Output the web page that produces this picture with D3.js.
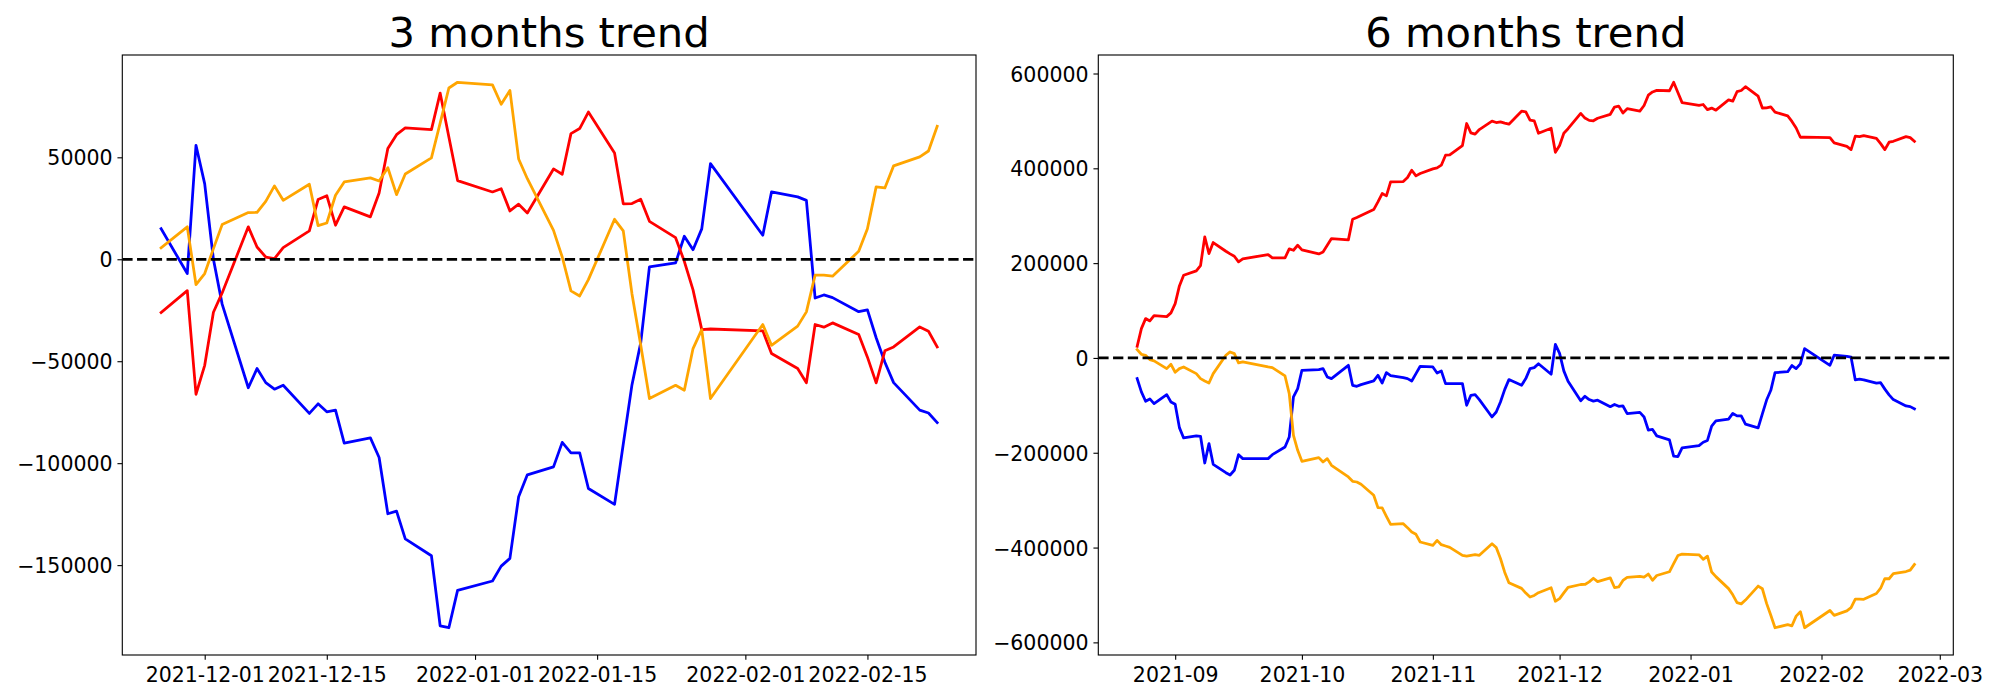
<!DOCTYPE html>
<html><head><meta charset="utf-8">
<script src="https://cdn.jsdelivr.net/npm/d3@7"></script>
<style>
body{margin:0;background:#fff}
svg{display:block}
text{font-family:"DejaVu Sans",sans-serif;fill:#000}
</style>
</head><body>
<svg id="c" width="2000" height="700"></svg>
<script>
// ---------- DATA ----------
const dates3m = ["2021-11-26","2021-11-29","2021-11-30","2021-12-01","2021-12-02","2021-12-03","2021-12-06","2021-12-07","2021-12-08","2021-12-09","2021-12-10","2021-12-13","2021-12-14","2021-12-15","2021-12-16","2021-12-17","2021-12-20","2021-12-21","2021-12-22","2021-12-23","2021-12-24","2021-12-27","2021-12-28","2021-12-29","2021-12-30","2022-01-03","2022-01-04","2022-01-05","2022-01-06","2022-01-07","2022-01-10","2022-01-11","2022-01-12","2022-01-13","2022-01-14","2022-01-17","2022-01-18","2022-01-19","2022-01-20","2022-01-21","2022-01-24","2022-01-25","2022-01-26","2022-01-27","2022-01-28","2022-02-03","2022-02-04","2022-02-07","2022-02-08","2022-02-09","2022-02-10","2022-02-11","2022-02-14","2022-02-15","2022-02-16","2022-02-17","2022-02-18","2022-02-21","2022-02-22","2022-02-23"];
const blue3m = [15000,-7000,55900,37000,0,-22000,-63000,-53600,-60500,-63700,-61800,-75600,-70900,-74800,-74000,-90200,-87600,-97200,-124800,-123500,-137100,-145400,-179800,-180700,-162400,-157800,-150500,-146700,-116500,-105700,-101800,-89800,-94900,-94900,-112400,-120200,-90600,-61500,-41000,-3700,-1800,11300,4700,14900,46900,11800,33000,30600,28900,-19000,-17500,-18800,-25700,-24800,-38500,-50500,-60500,-74000,-75400,-80100];
const red3m = [-26100,-15400,-66200,-52000,-26000,-16500,15900,6000,1100,300,5700,13900,29300,31200,16700,25700,20800,32500,54300,61100,64400,63600,81500,60000,38600,33000,34600,23700,27000,22700,44300,41700,61600,64100,72200,52100,27200,27300,29400,18600,10600,-1000,-15000,-34500,-34200,-35100,-46200,-53600,-60600,-32000,-33300,-31200,-36900,-48000,-60600,-44900,-43000,-33200,-35300,-43000];
const orange3m = [5600,15900,-12400,-7000,5200,17000,22900,23000,28400,36000,28900,36800,16500,17800,31400,37900,39900,38400,44900,31700,41800,49700,66800,84000,86800,85500,76000,82800,49200,39500,14200,1100,-15500,-18000,-10000,19600,13900,-17000,-42000,-68300,-61800,-64200,-43800,-34500,-68300,-32000,-42200,-32800,-25800,-7800,-7800,-8300,3900,15000,35500,35000,45800,50200,53100,65200];

const datesEarly6m = ["2021-08-23","2021-08-24","2021-08-25","2021-08-26","2021-08-27","2021-08-30","2021-08-31","2021-09-01","2021-09-02","2021-09-03","2021-09-06","2021-09-07","2021-09-08","2021-09-09","2021-09-10","2021-09-13","2021-09-14","2021-09-15","2021-09-16","2021-09-17","2021-09-23","2021-09-24","2021-09-27","2021-09-28","2021-09-29","2021-09-30","2021-10-01","2021-10-05","2021-10-06","2021-10-07","2021-10-08","2021-10-12","2021-10-13","2021-10-14","2021-10-15","2021-10-18","2021-10-19","2021-10-20","2021-10-21","2021-10-22","2021-10-25","2021-10-26","2021-10-27","2021-10-28","2021-10-29","2021-11-01","2021-11-02","2021-11-03","2021-11-04","2021-11-05","2021-11-08","2021-11-09","2021-11-10","2021-11-11","2021-11-12","2021-11-15","2021-11-16","2021-11-17","2021-11-18","2021-11-19","2021-11-22","2021-11-23","2021-11-24","2021-11-25"];
const dates6m = datesEarly6m.concat(dates3m);
const red6m = [24600,61900,83000,78100,89300,87200,95000,114700,151900,174400,183600,194800,255300,220200,243400,225100,219500,214500,202600,208900,218100,211000,211000,230000,227200,237700,227900,219500,223700,237700,251800,249000,292600,296100,300300,313000,329200,346800,341900,371400,372100,380500,396000,384100,389000,398800,400900,406600,427700,428400,448100,494500,474800,472000,481800,499400,496600,498000,495200,493100,520500,519100,501500,500100,
473900,484600,433800,448000,474000,483500,515900,506000,501100,500300,505700,513900,529300,531200,516700,525700,520800,532500,554300,561100,564400,563600,581500,560000,538600,533000,534600,523700,527000,522700,544300,541700,561600,564100,572200,552100,527200,527300,529400,518600,510600,499000,485000,465500,465800,464900,453800,446400,439400,468000,466700,468800,463100,452000,439400,455100,457000,466800,464700,457000];
const blue6m = [-43600,-71700,-91400,-86500,-96400,-77400,-92800,-97800,-147000,-168800,-164600,-165300,-221600,-180800,-224400,-242000,-246900,-237000,-204000,-212400,-212400,-204000,-187800,-166700,-82300,-64700,-26000,-24600,-22500,-40100,-43600,-15500,-57700,-59800,-56300,-48500,-36600,-52800,-30900,-37300,-41500,-43600,-48500,-33100,-17600,-19000,-31700,-27400,-54200,-54200,-54200,-99900,-78800,-77400,-87900,-124500,-114000,-92800,-66800,-45700,-57700,-43600,-22500,-20400,
-12300,-34300,28600,9700,-27300,-49300,-90300,-80900,-87800,-91000,-89100,-102900,-98200,-102100,-101300,-117500,-114900,-124500,-152100,-150800,-164400,-172700,-207100,-208000,-189700,-185100,-177800,-174000,-143800,-133000,-129100,-117100,-122200,-122200,-139700,-147500,-117900,-88800,-68300,-31000,-29100,-16000,-22600,-12400,19600,-15500,5700,3300,1600,-46300,-44800,-46100,-53000,-52100,-65800,-77800,-87800,-101300,-102700,-107400];
const orange6m = [17600,7700,5600,-3500,-6300,-22500,-13400,-30200,-22500,-19000,-33100,-43600,-48500,-52800,-33100,5600,12700,9100,-10600,-8400,-19000,-20400,-38000,-75300,-163200,-194800,-218100,-210300,-219500,-212400,-226500,-251100,-260300,-261700,-266600,-289800,-315800,-316500,-334100,-351000,-349600,-358000,-367200,-372100,-388300,-395300,-384800,-393900,-396700,-399500,-416400,-417800,-416400,-415000,-416400,-391800,-400000,-423000,-452000,-474100,-486100,-496000,-504400,-501000,
-495200,-484900,-513200,-507800,-495600,-483800,-477900,-477800,-472400,-464800,-471900,-464000,-484300,-483000,-469400,-462900,-460900,-462400,-455900,-469100,-459000,-451100,-434000,-416800,-414000,-415300,-424800,-418000,-451600,-461300,-486600,-499700,-516300,-518800,-510800,-481200,-486900,-517800,-542800,-569100,-562600,-565000,-544600,-535300,-569100,-532800,-543000,-533600,-526600,-508600,-508600,-509100,-496900,-485800,-465300,-465800,-455000,-450600,-447700,-435600];

const xTicks3m = ["2021-12-01","2021-12-15","2022-01-01","2022-01-15","2022-02-01","2022-02-15"];
const xTickLabels3m = ["2021-12-01","2021-12-15","2022-01-01","2022-01-15","2022-02-01","2022-02-15"];
const yTicks3m = [-150000,-100000,-50000,0,50000];
const xTicks6m = ["2021-09-01","2021-10-01","2021-11-01","2021-12-01","2022-01-01","2022-02-01","2022-03-01"];
const xTickLabels6m = ["2021-09","2021-10","2021-11","2021-12","2022-01","2022-02","2022-03"];
const yTicks6m = [-600000,-400000,-200000,0,200000,400000,600000];
const titles = ["3 months trend","6 months trend"];
const seriesColors = ["#0000ff","#ff0000","#ffa500"];

// ---------- DRAW ----------
const parse = d3.utcParse("%Y-%m-%d");
const svg = d3.select("#c");
svg.append("rect").attr("width",2000).attr("height",700).attr("fill","#fff");

const FS = 20.5, TICK = 4.86, PAD = 4.86, LW = 2.78;

function panel(box, title, dates, series, xt, xtl, yt) {
  const [x0, x1, y0, y1] = box;
  const ds = dates.map(parse);
  const tExt = d3.extent(ds);
  const span = tExt[1] - tExt[0];
  const x = d3.scaleUtc()
    .domain([new Date(+tExt[0] - 0.05*span), new Date(+tExt[1] + 0.05*span)])
    .range([x0, x1]);
  const all = series.flat();
  const vmin = d3.min(all), vmax = d3.max(all), r = vmax - vmin;
  const y = d3.scaleLinear().domain([vmin - 0.05*r, vmax + 0.05*r]).range([y1, y0]);

  const g = svg.append("g");
  const clipId = "clip" + Math.round(x0);
  g.append("clipPath").attr("id", clipId).append("rect")
    .attr("x", x0).attr("y", y0).attr("width", x1 - x0).attr("height", y1 - y0);

  const plot = g.append("g").attr("clip-path", `url(#${clipId})`);
  const line = d3.line().x(d => x(d[0])).y(d => y(d[1]));
  series.forEach((vals, i) => {
    plot.append("path")
      .datum(ds.map((d, j) => [d, vals[j]]))
      .attr("d", line)
      .attr("fill", "none")
      .attr("stroke", seriesColors[i])
      .attr("stroke-width", LW)
      .attr("stroke-linejoin", "round")
      .attr("stroke-linecap", "square");
  });
  plot.append("line")
    .attr("x1", x0).attr("x2", x1).attr("y1", y(0)).attr("y2", y(0))
    .attr("stroke", "#000").attr("stroke-width", LW)
    .attr("stroke-dasharray", "10.3,4.45");

  // axes
  const fmt = v => (v < 0 ? "\u2212" : "") + Math.abs(v);
  const ya = g.append("g").attr("transform", `translate(${x0},0)`)
    .call(d3.axisLeft(y).tickValues(yt).tickFormat(fmt).tickSize(TICK).tickPadding(PAD));
  ya.select(".domain").remove();
  ya.selectAll("line").attr("stroke", "#000").attr("stroke-width", 1.11);
  ya.selectAll("text").attr("font-size", FS).attr("font-family", '"DejaVu Sans", sans-serif')
    .attr("dy", "0.37em").attr("fill", "#000");

  const xtDates = xt.map(parse);
  const xa = g.append("g").attr("transform", `translate(0,${y1})`)
    .call(d3.axisBottom(x).tickValues(xtDates)
      .tickFormat((d, i) => xtl[i]).tickSize(TICK).tickPadding(PAD));
  xa.select(".domain").remove();
  xa.selectAll("line").attr("stroke", "#000").attr("stroke-width", 1.11);
  xa.selectAll("text").attr("font-size", FS).attr("font-family", '"DejaVu Sans", sans-serif')
    .attr("dy", "0.82em").attr("fill", "#000");

  // frame
  g.append("rect").attr("x", x0).attr("y", y0).attr("width", x1 - x0).attr("height", y1 - y0)
    .attr("fill", "none").attr("stroke", "#000").attr("stroke-width", 1.11);

  g.append("text").attr("x", (x0 + x1) / 2).attr("y", 46.7)
    .attr("text-anchor", "middle").attr("font-size", 41.7).text(title);
}

panel([122.3, 976, 55, 655], titles[0], dates3m, [blue3m, red3m, orange3m], xTicks3m, xTickLabels3m, yTicks3m);
panel([1098.3, 1953.3, 55, 655], titles[1], dates6m, [blue6m, red6m, orange6m], xTicks6m, xTickLabels6m, yTicks6m);
</script>
</body></html>
